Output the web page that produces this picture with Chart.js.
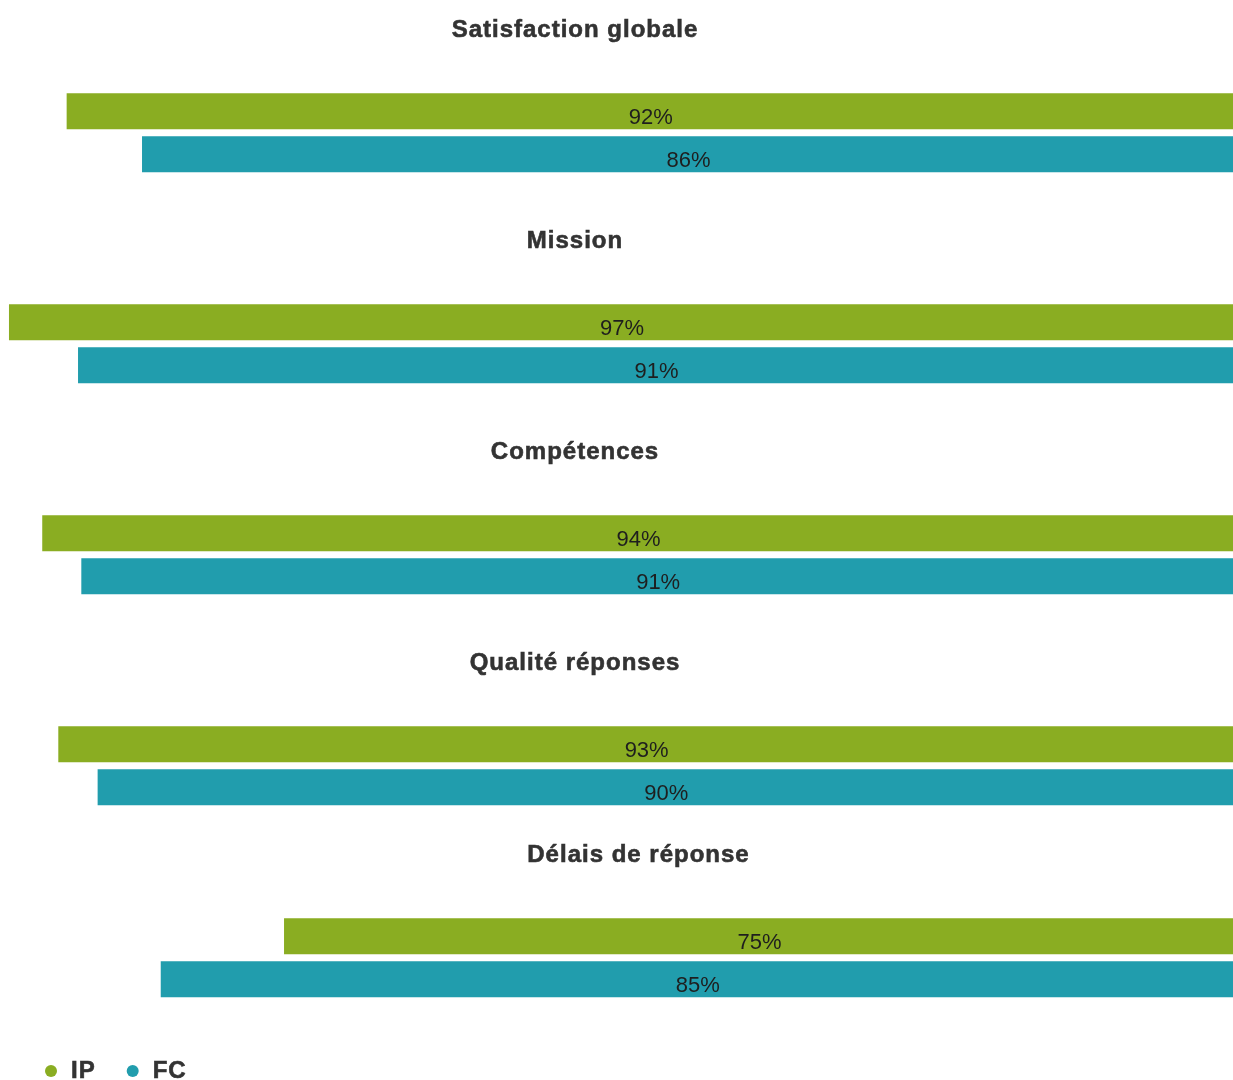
<!DOCTYPE html>
<html><head><meta charset="utf-8">
<script src="https://cdn.jsdelivr.net/npm/chart.js@4.4.1/dist/chart.umd.min.js"></script>
<style>
html,body{margin:0;padding:0;background:#fff;overflow:hidden;}
#wrap{position:relative;width:1233px;height:1080px;}
canvas{position:absolute;left:0;}
</style></head><body><div id="wrap"></div>
<script>
// ---- data ----
const categories = ['Satisfaction globale', 'Mission', 'Compétences', 'Qualité réponses', 'Délais de réponse'];
const seriesNames = ['IP', 'FC'];
const ipValues = [92.23, 96.79, 94.16, 92.89, 75.04];
const fcValues = [86.27, 91.33, 91.07, 89.78, 84.79];
const axisMax = 97.5;

// ---- style / layout ----
const COLORS = ['#8aad22', '#219dad'];
const canvasTops = [0, 211, 422, 633, 825];
const canvasHeights = [211, 211, 211, 192, 255];
const titleCenterX = [574.5, 574.5, 574.5, 574.5, 638];
const FONT = '"Liberation Sans", Arial, Helvetica, sans-serif';

function boldText(ctx, txt, x, y) {
  ctx.fillText(txt, x, y);
  ctx.lineWidth = 0.6;
  ctx.strokeStyle = ctx.fillStyle;
  ctx.strokeText(txt, x, y);
}

const decorPlugin = {
  id: 'decor',
  afterDatasetsDraw(chart, args, opts) {
    const ctx = chart.ctx;
    ctx.save();
    ctx.textBaseline = 'alphabetic';
    ctx.textAlign = 'center';
    ctx.font = 'bold 24px ' + FONT;
    ctx.fillStyle = '#333333';
    if ('letterSpacing' in ctx) ctx.letterSpacing = '1px';
    boldText(ctx, chart.data.labels[0], opts.titleX + 0.5, 37);
    if ('letterSpacing' in ctx) ctx.letterSpacing = '0px';
    ctx.font = '22px ' + FONT;
    ctx.fillStyle = '#1e1e1e';
    chart.data.datasets.forEach((ds, i) => {
      const meta = chart.getDatasetMeta(i);
      meta.data.forEach((bar, j) => {
        const v = ds.data[j];
        ctx.fillText(Math.round(v) + '%', (bar.x + bar.base) / 2 + 1, bar.y + 13);
      });
    });
    if (opts.legend) {
      ctx.textAlign = 'left';
      ctx.font = 'bold 24px ' + FONT;
      if ('letterSpacing' in ctx) ctx.letterSpacing = '1px';
      let x = 45;
      chart.data.datasets.forEach((ds) => {
        ctx.fillStyle = ds.backgroundColor;
        ctx.beginPath();
        ctx.arc(x + 6, 246, 6, 0, Math.PI * 2);
        ctx.fill();
        ctx.fillStyle = '#333333';
        const tx = x + 26;
        boldText(ctx, ds.label, tx, 253);
        x = tx + ctx.measureText(ds.label).width + 31;
      });
    }
    ctx.restore();
  }
};

const wrap = document.getElementById('wrap');
categories.forEach((cat, i) => {
  const H = canvasHeights[i];
  const cv = document.createElement('canvas');
  cv.width = 1233; cv.height = H;
  cv.style.top = canvasTops[i] + 'px';
  cv.style.width = '1233px'; cv.style.height = H + 'px';
  wrap.appendChild(cv);
  new Chart(cv.getContext('2d'), {
    type: 'bar',
    data: {
      labels: [cat],
      datasets: [
        { label: seriesNames[0], data: [ipValues[i]], backgroundColor: COLORS[0], borderWidth: 0 },
        { label: seriesNames[1], data: [fcValues[i]], backgroundColor: COLORS[1], borderWidth: 0 }
      ]
    },
    options: {
      indexAxis: 'y',
      responsive: false,
      animation: false,
      devicePixelRatio: 1,
      layout: { padding: { top: 89.8, bottom: H - 175.8, left: 0, right: 0 } },
      datasets: { bar: { categoryPercentage: 1, barPercentage: 36 / 43 } },
      scales: {
        x: { type: 'linear', reverse: true, min: 0, max: axisMax, display: false },
        y: { display: false }
      },
      plugins: {
        legend: { display: false },
        tooltip: { enabled: false },
        title: { display: false },
        decor: { titleX: titleCenterX[i], legend: i === categories.length - 1 }
      }
    },
    plugins: [decorPlugin]
  });
});
</script></body></html>
